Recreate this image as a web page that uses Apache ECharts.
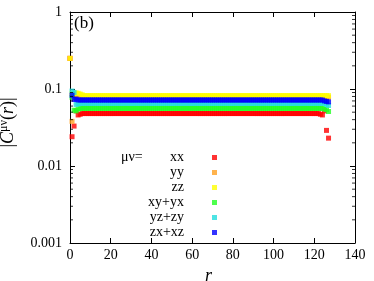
<!DOCTYPE html>
<html><head><meta charset="utf-8">
<script src="https://cdn.jsdelivr.net/npm/echarts@6/dist/echarts.min.js"></script>
<style>html,body{margin:0;padding:0;background:#fff}#c{width:374px;height:281px}</style>
</head><body><div id="c"></div>
<script>
const r = [
0,1,2,3,4,5,6,7,8,9,10,11,12,13,14,15,
16,17,18,19,20,21,22,23,24,25,26,27,28,29,30,31,
32,33,34,35,36,37,38,39,40,41,42,43,44,45,46,47,
48,49,50,51,52,53,54,55,56,57,58,59,60,61,62,63,
64,65,66,67,68,69,70,71,72,73,74,75,76,77,78,79,
80,81,82,83,84,85,86,87,88,89,90,91,92,93,94,95,
96,97,98,99,100,101,102,103,104,105,106,107,108,109,110,111,
112,113,114,115,116,117,118,119,120,121,122,123,124,125,126,127];

const xx = [
0.25,0.024,0.033,0.052,0.046,0.047,0.048,0.048,0.048,0.048,0.048,0.048,0.048,0.048,0.048,0.048,
0.048,0.048,0.048,0.048,0.048,0.048,0.048,0.048,0.048,0.048,0.048,0.048,0.048,0.048,0.048,0.048,
0.048,0.048,0.048,0.048,0.048,0.048,0.048,0.048,0.048,0.048,0.048,0.048,0.048,0.048,0.048,0.048,
0.048,0.048,0.048,0.048,0.048,0.048,0.048,0.048,0.048,0.048,0.048,0.048,0.048,0.048,0.048,0.048,
0.048,0.048,0.048,0.048,0.048,0.048,0.048,0.048,0.048,0.048,0.048,0.048,0.048,0.048,0.048,0.048,
0.048,0.048,0.048,0.048,0.048,0.048,0.048,0.048,0.048,0.048,0.048,0.048,0.048,0.048,0.048,0.048,
0.048,0.048,0.048,0.048,0.048,0.048,0.048,0.048,0.048,0.048,0.048,0.048,0.048,0.048,0.048,0.048,
0.048,0.048,0.048,0.048,0.048,0.048,0.048,0.048,0.048,0.048,0.048,0.047,0.046,0.052,0.029,0.023];

const yy = [
0.25,0.038,0.078,0.078,0.078,0.078,0.078,0.078,0.078,0.078,0.078,0.078,0.078,0.078,0.078,0.078,
0.078,0.078,0.078,0.078,0.078,0.078,0.078,0.078,0.078,0.078,0.078,0.078,0.078,0.078,0.078,0.078,
0.078,0.078,0.078,0.078,0.078,0.078,0.078,0.078,0.078,0.078,0.078,0.078,0.078,0.078,0.078,0.078,
0.078,0.078,0.078,0.078,0.078,0.078,0.078,0.078,0.078,0.078,0.078,0.078,0.078,0.078,0.078,0.078,
0.078,0.078,0.078,0.078,0.078,0.078,0.078,0.078,0.078,0.078,0.078,0.078,0.078,0.078,0.078,0.078,
0.078,0.078,0.078,0.078,0.078,0.078,0.078,0.078,0.078,0.078,0.078,0.078,0.078,0.078,0.078,0.078,
0.078,0.078,0.078,0.078,0.078,0.078,0.078,0.078,0.078,0.078,0.078,0.078,0.078,0.078,0.078,0.078,
0.078,0.078,0.078,0.078,0.078,0.078,0.078,0.078,0.078,0.078,0.078,0.078,0.078,0.078,0.078,0.078];

const zz = [
0.25,0.088,0.088,0.089,0.088,0.086,0.084,0.082,0.082,0.082,0.082,0.082,0.082,0.082,0.082,0.082,
0.082,0.082,0.082,0.082,0.082,0.082,0.082,0.082,0.082,0.082,0.082,0.082,0.082,0.082,0.082,0.082,
0.082,0.082,0.082,0.082,0.082,0.082,0.082,0.082,0.082,0.082,0.082,0.082,0.082,0.082,0.082,0.082,
0.082,0.082,0.082,0.082,0.082,0.082,0.082,0.082,0.082,0.082,0.082,0.082,0.082,0.082,0.082,0.082,
0.082,0.082,0.082,0.082,0.082,0.082,0.082,0.082,0.082,0.082,0.082,0.082,0.082,0.082,0.082,0.082,
0.082,0.082,0.082,0.082,0.082,0.082,0.082,0.082,0.082,0.082,0.082,0.082,0.082,0.082,0.082,0.082,
0.082,0.082,0.082,0.082,0.082,0.082,0.082,0.082,0.082,0.082,0.082,0.082,0.082,0.082,0.082,0.082,
0.082,0.082,0.082,0.082,0.082,0.082,0.082,0.082,0.082,0.082,0.082,0.082,0.082,0.082,0.082,0.082];

const xy = [
null,0.078,0.053,0.052,0.055,0.056,0.056,0.056,0.056,0.056,0.056,0.056,0.056,0.056,0.056,0.056,
0.056,0.056,0.056,0.056,0.056,0.056,0.056,0.056,0.056,0.056,0.056,0.056,0.056,0.056,0.056,0.056,
0.056,0.056,0.056,0.056,0.056,0.056,0.056,0.056,0.056,0.056,0.056,0.056,0.056,0.056,0.056,0.056,
0.056,0.056,0.056,0.056,0.056,0.056,0.056,0.056,0.056,0.056,0.056,0.056,0.056,0.056,0.056,0.056,
0.056,0.056,0.056,0.056,0.056,0.056,0.056,0.056,0.056,0.056,0.056,0.056,0.056,0.056,0.056,0.056,
0.056,0.056,0.056,0.056,0.056,0.056,0.056,0.056,0.056,0.056,0.056,0.056,0.056,0.056,0.056,0.056,
0.056,0.056,0.056,0.056,0.056,0.056,0.056,0.056,0.056,0.056,0.056,0.056,0.056,0.056,0.056,0.056,
0.056,0.056,0.056,0.056,0.056,0.056,0.056,0.056,0.056,0.056,0.056,0.056,0.056,0.055,0.054,0.051];

const yz = [
null,0.094,0.090,0.063,0.064,0.065,0.065,0.065,0.065,0.065,0.065,0.065,0.065,0.065,0.065,0.065,
0.065,0.065,0.065,0.065,0.065,0.065,0.065,0.065,0.065,0.065,0.065,0.065,0.065,0.065,0.065,0.065,
0.065,0.065,0.065,0.065,0.065,0.065,0.065,0.065,0.065,0.065,0.065,0.065,0.065,0.065,0.065,0.065,
0.065,0.065,0.065,0.065,0.065,0.065,0.065,0.065,0.065,0.065,0.065,0.065,0.065,0.065,0.065,0.065,
0.065,0.065,0.065,0.065,0.065,0.065,0.065,0.065,0.065,0.065,0.065,0.065,0.065,0.065,0.065,0.065,
0.065,0.065,0.065,0.065,0.065,0.065,0.065,0.065,0.065,0.065,0.065,0.065,0.065,0.065,0.065,0.065,
0.065,0.065,0.065,0.065,0.065,0.065,0.065,0.065,0.065,0.065,0.065,0.065,0.065,0.065,0.065,0.065,
0.065,0.065,0.065,0.065,0.065,0.065,0.065,0.065,0.065,0.065,0.065,0.065,0.065,0.065,0.063,0.061];

const zx = [
null,0.083,0.073,0.074,0.072,0.072,0.072,0.072,0.072,0.072,0.072,0.072,0.072,0.072,0.072,0.072,
0.072,0.072,0.072,0.072,0.072,0.072,0.072,0.072,0.072,0.072,0.072,0.072,0.072,0.072,0.072,0.072,
0.072,0.072,0.072,0.072,0.072,0.072,0.072,0.072,0.072,0.072,0.072,0.072,0.072,0.072,0.072,0.072,
0.072,0.072,0.072,0.072,0.072,0.072,0.072,0.072,0.072,0.072,0.072,0.072,0.072,0.072,0.072,0.072,
0.072,0.072,0.072,0.072,0.072,0.072,0.072,0.072,0.072,0.072,0.072,0.072,0.072,0.072,0.072,0.072,
0.072,0.072,0.072,0.072,0.072,0.072,0.072,0.072,0.072,0.072,0.072,0.072,0.072,0.072,0.072,0.072,
0.072,0.072,0.072,0.072,0.072,0.072,0.072,0.072,0.072,0.072,0.072,0.072,0.072,0.072,0.072,0.072,
0.072,0.072,0.072,0.072,0.072,0.072,0.072,0.072,0.072,0.072,0.072,0.072,0.072,0.070,0.069,0.068];

const seriesNames = ['xx', 'yy', 'zz', 'xy+yx', 'yz+zy', 'zx+xz'];
const seriesColors = ['#ff0000', '#ffa020', '#ffff00', '#22ff22', '#22dddd', '#0000ff'];
const yTickLabels = ['0.001', '0.01', '0.1', '1'];
const minorTickValues = [0.002,0.003,0.004,0.005,0.006,0.007,0.008,0.009,
  0.02,0.03,0.04,0.05,0.06,0.07,0.08,0.09,
  0.2,0.3,0.4,0.5,0.6,0.7,0.8,0.9];

const F = 'Liberation Serif';
const chart = echarts.init(document.getElementById('c'), null, {renderer: 'canvas'});
function pts(v) {
  const out = [];
  for (let i = 0; i < r.length; i++) if (v[i] != null) out.push([r[i], v[i]]);
  return out;
}
const values = [xx, yy, zz, xy, yz, zx];
const series = values.map((v, k) => ({
  name: seriesNames[k], type: 'scatter', data: pts(v),
  symbol: 'rect', symbolSize: 5, itemStyle: {color: seriesColors[k]},
  clip: false, silent: true, animation: false
}));
series.push({
  name: 'minorL', type: 'scatter', data: minorTickValues.map(v => [0, v]),
  symbol: 'rect', symbolSize: [3, 1], symbolOffset: [1.5, 0], itemStyle: {color: '#000'},
  clip: false, silent: true, animation: false, z: 5
});
series.push({
  name: 'minorR', type: 'scatter', data: minorTickValues.map(v => [140, v]),
  symbol: 'rect', symbolSize: [3, 1], symbolOffset: [-1.5, 0], itemStyle: {color: '#000'},
  clip: false, silent: true, animation: false, z: 5
});

const axLine = {show: true, onZero: false, lineStyle: {color: '#000', width: 1}};
const tick = {show: true, inside: true, length: 5, lineStyle: {color: '#000', width: 1}};

chart.setOption({
  animation: false,
  backgroundColor: '#fff',
  grid: {left: 70, right: 19, top: 12, bottom: 38, containLabel: false, outerBoundsMode: 'none'},
  xAxis: [
    {type: 'value', min: 0, max: 140, interval: 20, position: 'bottom',
     axisLine: axLine, axisTick: tick, splitLine: {show: false},
     axisLabel: {fontFamily: F, fontSize: 14, color: '#000', margin: 5},
     name: 'r', nameLocation: 'middle', nameGap: 21,
     nameTextStyle: {fontFamily: F, fontStyle: 'italic', fontSize: 18, color: '#000', padding: [0, 8, 0, 0]}},
    {type: 'value', min: 0, max: 140, interval: 20, position: 'top',
     axisLine: axLine, axisTick: tick, splitLine: {show: false}, axisLabel: {show: false}}
  ],
  yAxis: [
    {type: 'log', logBase: 10, min: 0.001, max: 1, position: 'left',
     axisLine: axLine, axisTick: tick, splitLine: {show: false},
     axisLabel: {fontFamily: F, fontSize: 14, color: '#000', margin: 8,
       formatter: v => yTickLabels[Math.round(Math.log10(v)) + 3]},
     name: '|{it|C}{sup|μν}({it|r})|', nameLocation: 'middle', nameGap: 44, nameRotate: 90,
     nameTextStyle: {fontFamily: F, fontSize: 18, color: '#000', lineHeight: 22, padding: [0, 0, 0, 10],
       rich: {it: {fontFamily: F, fontStyle: 'italic', fontSize: 18, lineHeight: 22, color: '#000'},
              sup: {fontFamily: F, fontSize: 12, lineHeight: 12, verticalAlign: 'top', color: '#000'}}}},
    {type: 'log', logBase: 10, min: 0.001, max: 1, position: 'right',
     axisLine: axLine, axisTick: tick, splitLine: {show: false}, axisLabel: {show: false}}
  ],
  legend: {
    data: seriesNames, orient: 'vertical', align: 'right', right: 157, top: 150,
    padding: 0, itemGap: 0, itemWidth: 5, itemHeight: 5, selectedMode: false,
    textStyle: {fontFamily: F, fontSize: 14, color: '#000', lineHeight: 15, padding: [0, 23, 0, 0]}
  },
  graphic: [
    {type: 'text', left: 74, top: 15, style: {text: '(b)', fontFamily: F, fontSize: 17, fill: '#000'}},
    {type: 'text', left: 121, top: 150, style: {text: 'μν=', fontFamily: F, fontSize: 14, fill: '#000'}}
  ],
  series: series
});
</script>
</body></html>
